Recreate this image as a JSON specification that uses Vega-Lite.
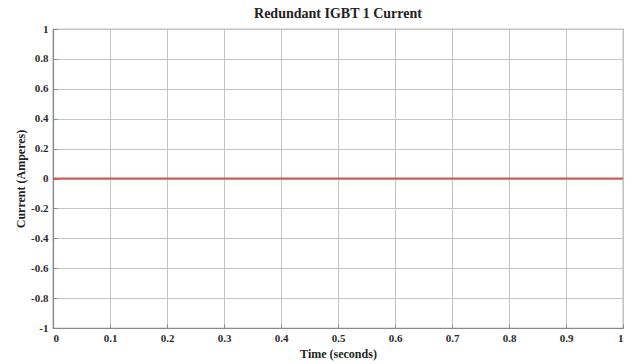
{
  "$schema": "https://vega.github.io/schema/vega-lite/v6.json",
  "width": 570,
  "height": 299,
  "autosize": "none",
  "padding": {"left": 53, "top": 29, "right": 13, "bottom": 36},
  "background": "white",
  "title": {
    "text": "Redundant IGBT 1 Current",
    "font": "Liberation Serif",
    "fontSize": 14,
    "fontWeight": "bold",
    "color": "#222222",
    "offset": 2
  },
  "data": {
    "values": [
      {"time": 0.0, "current": 0},
      {"time": 0.25, "current": 0},
      {"time": 0.5, "current": 0},
      {"time": 0.75, "current": 0},
      {"time": 1.0, "current": 0}
    ]
  },
  "mark": {"type": "line", "color": "#cc4a44", "strokeWidth": 1.8, "opacity": 0.9},
  "encoding": {
    "x": {
      "field": "time",
      "type": "quantitative",
      "title": "Time (seconds)",
      "scale": {"domain": [0, 1], "nice": false},
      "axis": {"values": [0, 0.1, 0.2, 0.3, 0.4, 0.5, 0.6, 0.7, 0.8, 0.9, 1], "format": "~g", "labelPadding": 8, "titlePadding": 5}
    },
    "y": {
      "field": "current",
      "type": "quantitative",
      "title": "Current (Amperes)",
      "scale": {"domain": [-1, 1], "nice": false, "zero": false},
      "axis": {
        "values": [-1, -0.8, -0.6, -0.4, -0.2, 0, 0.2, 0.4, 0.6, 0.8, 1],
        "format": "~g",
        "labelExpr": "replace(datum.label, '−', '-')",
        "labelPadding": 9,
        "titlePadding": 3
      }
    }
  },
  "config": {
    "view": {"stroke": "#8a8a8a", "strokeWidth": 1.2},
    "axis": {
      "labelFont": "Liberation Serif",
      "labelFontWeight": "bold",
      "labelFontSize": 11,
      "labelColor": "#2a2a2a",
      "titleFont": "Liberation Serif",
      "titleFontWeight": "bold",
      "titleFontSize": 12,
      "titleColor": "#222222",
      "domainColor": "#8a8a8a",
      "domainWidth": 1.2,
      "tickColor": "#8a8a8a",
      "tickSize": -4,
      "gridColor": "#c4c4c4",
      "gridWidth": 1,
      "grid": true
    }
  }
}
